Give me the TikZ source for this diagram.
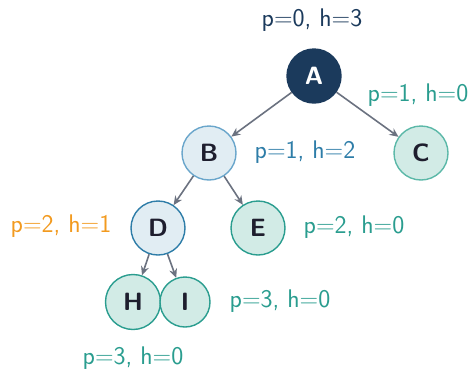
\documentclass[tikz,border=0pt]{standalone}
\usetikzlibrary{arrows.meta}
\renewcommand{\familydefault}{\sfdefault}
\definecolor{navy}{HTML}{1B3A5C}
\definecolor{lblue}{HTML}{E1EDF3}
\definecolor{bblue}{HTML}{6AA6CB}
\definecolor{dblue}{HTML}{2E7DA8}
\definecolor{lteal}{HTML}{D2EBE6}
\definecolor{tealb}{HTML}{2A9D8F}
\definecolor{tealc}{HTML}{5BB8A8}
\definecolor{edgec}{HTML}{6B7280}
\definecolor{orng}{HTML}{F29A1F}
\definecolor{ink}{HTML}{1E1E2E}
\begin{document}
\begin{tikzpicture}[x=1pt,y=-1pt,
  vtx/.style={circle,minimum size=54pt,inner sep=0pt,line width=1.4pt,font=\fontsize{25}{30}\selectfont\bfseries,text=ink},
  lab/.style={font=\fontsize{25.5}{30}\selectfont,inner sep=0pt},
  edge/.style={draw=edgec,line width=1.6pt,-{Stealth[length=9pt,width=8pt]}}]
\useasboundingbox (0,0) rectangle (474,370);
\node[vtx,fill=navy,draw=navy,text=white] (A) at (314,76) {A};
\node[vtx,fill=lblue,draw=bblue] (B) at (209,153) {B};
\node[vtx,fill=lteal,draw=tealc] (C) at (421,153) {C};
\node[vtx,fill=lblue,draw=dblue] (D) at (158,228) {D};
\node[vtx,fill=lteal,draw=tealb] (E) at (258,228) {E};
\node[vtx,fill=lteal,draw=tealb,minimum size=55pt] (H) at (133,302) {H};
\node[vtx,fill=lteal,draw=tealb,minimum size=50pt] (I) at (185,302) {I};
\draw[edge] (A) -- (B);
\draw[edge] (A) -- (C);
\draw[edge] (B) -- (D);
\draw[edge] (B) -- (E);
\draw[edge] (D) -- (H);
\draw[edge] (D) -- (I);
\node[lab,text=navy] (lA) at (312,20) {p=0, h=3};
\node[lab,text=tealb] (lC) at (418,95) {p=1, h=0};
\node[lab,text=dblue] (lB) at (305,152) {p=1, h=2};
\node[lab,text=orng] (lD) at (61,226) {p=2, h=1};
\node[lab,text=tealb] (lE) at (354,227) {p=2, h=0};
\node[lab,text=tealb] (lI) at (280,301) {p=3, h=0};
\node[lab,text=tealb] (lH) at (133,358) {p=3, h=0};
\end{tikzpicture}
\end{document}
